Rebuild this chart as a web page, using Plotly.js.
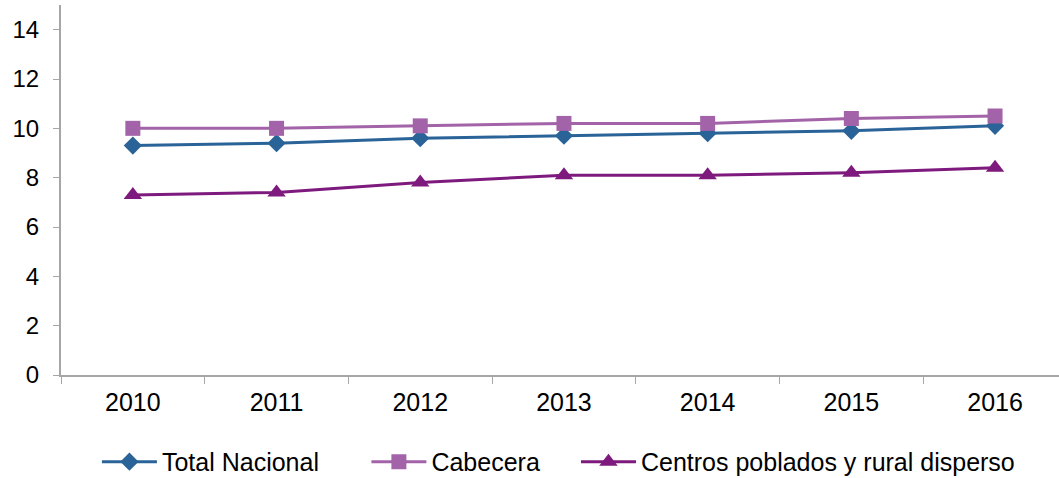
<!DOCTYPE html>
<html>
<head>
<meta charset="utf-8">
<script src="https://cdn.plot.ly/plotly-3.0.1.min.js"></script>
<style>html,body{margin:0;padding:0;background:#fff;}#chart{width:1059px;height:478px;}</style>
</head>
<body>
<div id="chart"></div>
<script>
var years = ['2010','2011','2012','2013','2014','2015','2016'];
var totalNacional = [9.3, 9.4, 9.6, 9.7, 9.8, 9.9, 10.1];
var cabecera = [10.0, 10.0, 10.1, 10.2, 10.2, 10.4, 10.5];
var centrosPoblados = [7.3, 7.4, 7.8, 8.1, 8.1, 8.2, 8.4];
var seriesNames = ['Total Nacional', 'Cabecera', 'Centros poblados y rural disperso'];
var yTicks = [0, 2, 4, 6, 8, 10, 12, 14];

var FONT = 'Liberation Sans, Arial, sans-serif';

var traces = [
  {x: years, y: totalNacional, name: seriesNames[0], type: 'scatter', mode: 'lines+markers',
   line: {color: '#2A6397', width: 3}, marker: {symbol: 'diamond', size: 14, color: '#2A6397'}, legend: 'legend'},
  {x: years, y: cabecera, name: seriesNames[1], type: 'scatter', mode: 'lines+markers',
   line: {color: '#A263A8', width: 3}, marker: {symbol: 'square', size: 15, color: '#A263A8'}, legend: 'legend2'},
  {x: years, y: centrosPoblados, name: seriesNames[2], type: 'scatter', mode: 'lines+markers',
   line: {color: '#7E1A7D', width: 3}, marker: {symbol: 'triangle-up', size: 16, color: '#7E1A7D'}, legend: 'legend3'}
];

var legendCommon = {orientation: 'h', yanchor: 'middle', y: -0.235, xanchor: 'left',
  font: {family: FONT, size: 25, color: '#000'}, bgcolor: 'rgba(0,0,0,0)', itemwidth: 55, tracegroupgap: 0};

var layout = {
  width: 1059, height: 478,
  margin: {l: 61, r: 0, t: 5, b: 103, autoexpand: false},
  paper_bgcolor: '#fff', plot_bgcolor: '#fff',
  showlegend: true,
  xaxis: {
    type: 'category', range: [-0.5, 6.445], tickson: 'boundaries',
    ticks: 'outside', ticklen: 7, tickcolor: '#A6A6A6', tickwidth: 1,
    showline: true, linecolor: '#A6A6A6', linewidth: 2, showgrid: false, zeroline: false,
    ticklabelstandoff: 4,
    tickfont: {family: FONT, size: 25, color: '#000'}
  },
  yaxis: {
    range: [0, 15], tickvals: yTicks, ticktext: yTicks.map(String),
    ticks: 'outside', ticklen: 6, tickcolor: '#A6A6A6', tickwidth: 1,
    showline: true, linecolor: '#A6A6A6', linewidth: 2, showgrid: false, zeroline: false,
    ticklabelstandoff: 9,
    tickfont: {family: FONT, size: 24, color: '#000'}
  },
  legend: Object.assign({}, legendCommon, {x: 0.036}),
  legend2: Object.assign({}, legendCommon, {x: 0.306}),
  legend3: Object.assign({}, legendCommon, {x: 0.516})
};

Plotly.newPlot('chart', traces, layout, {displayModeBar: false, staticPlot: true});
</script>
</body>
</html>
